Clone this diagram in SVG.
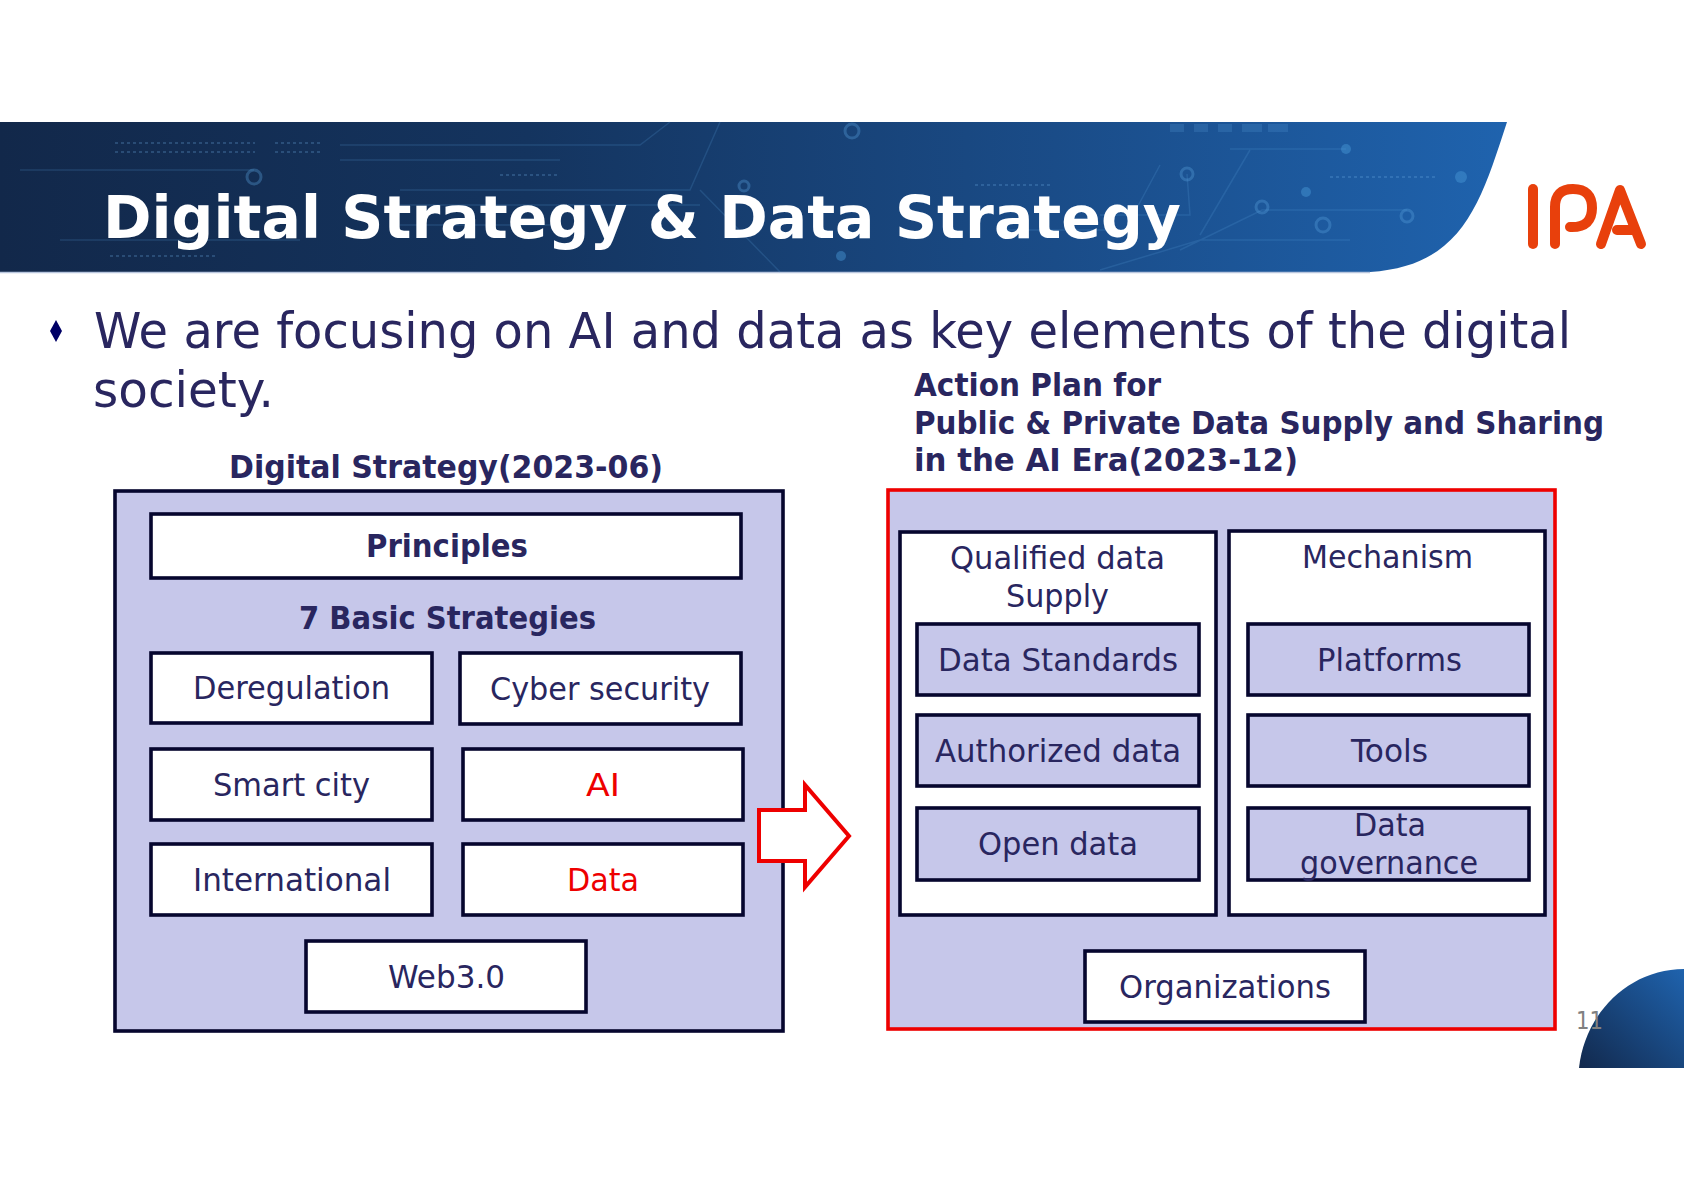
<svg xmlns="http://www.w3.org/2000/svg" width="1684" height="1191" viewBox="0 0 1684 1191">
<style>
text{font-family:"DejaVu Sans","Liberation Sans",sans-serif;fill:#29265f}
.t{font-size:32px;text-anchor:start}
.b{font-weight:bold}
.box{fill:#fff;stroke:#06062e;stroke-width:3.6}
.lav{fill:#c6c7ea;stroke:#06062e;stroke-width:3.6}
.dl{fill:none;stroke:#5aa0dc;stroke-opacity:.2;stroke-width:1.5}
.dc{fill:none;stroke:#5aa0dc;stroke-opacity:.35;stroke-width:3}
.df{fill:#4a9ad8;fill-opacity:.45}
.ch{fill:none;stroke:#6fb0e6;stroke-opacity:.25;stroke-width:2;stroke-dasharray:3 3}
</style>
<defs>
<linearGradient id="bn" x1="0" x2="1" y1="0" y2="0"><stop offset="0" stop-color="#12284a"/><stop offset=".35" stop-color="#14345f"/><stop offset=".7" stop-color="#1a4c88"/><stop offset="1" stop-color="#1f63ae"/></linearGradient>
<linearGradient id="cr" x1="0" x2="1" y1="1" y2="0"><stop offset="0" stop-color="#12294d"/><stop offset="1" stop-color="#1f63ae"/></linearGradient>
</defs>
<rect width="1684" height="1191" fill="#fff"/>
<g id="banner">
<path d="M0 122H1507C1480 205 1462 266 1370 272H0Z" fill="url(#bn)"/>
<path d="M0 272.500H1370" stroke="#b9c6de" stroke-width="1.500"/>
<g id="banner-circuit">
<path class="dl" d="M340 145H640L670 122M340 160H560M400 190H690L720 122M400 205H700M400 225H560M20 170H254M60 240H300M1160 165L1125 230H1000M1230 149H1346M1200 235L1250 150M1180 250L1262 210H1407M1100 270L1200 240H1350M700 190L780 272M1100 215H1190L1187 174"/>
<path class="ch" d="M115 143H255M115 152H255M275 143H320M275 152H320M110 256H215M975 185H1050M1330 177H1435M500 175H560"/>
<circle class="dc" cx="852" cy="131" r="7"/><circle class="dc" cx="254" cy="177" r="7"/><circle class="dc" cx="1187" cy="174" r="6"/><circle class="dc" cx="1262" cy="207" r="6"/><circle class="dc" cx="1323" cy="225" r="7"/><circle class="dc" cx="1407" cy="216" r="6"/><circle class="dc" cx="744" cy="186" r="5"/>
<circle class="df" cx="1461" cy="177" r="6"/><circle class="df" cx="1346" cy="149" r="5"/><circle class="df" cx="1306" cy="192" r="5"/><circle class="df" cx="841" cy="256" r="5"/>
<path d="M1170 124h14v8h-14zM1194 124h14v8h-14zM1218 124h14v8h-14zM1242 124h20v8h-20zM1268 124h20v8h-20z" fill="#5aa0dc" fill-opacity=".22"/>
</g>
<text x="103" y="238" class="b" font-size="59" textLength="1078" lengthAdjust="spacingAndGlyphs" style="fill:#fff">Digital Strategy &amp; Data Strategy</text>
</g>
<g id="logo" fill="none" stroke="#e8400c" stroke-width="10" stroke-linecap="round" stroke-linejoin="round">
<path d="M1533 189V244"/>
<path d="M1555 244V207Q1555 189 1573 189Q1592 189 1592 208Q1592 227 1572 227H1570"/>
<path d="M1601 244L1620 190L1641 244M1617 230H1635"/>
</g>
<g id="corner"><path d="M1579 1068C1585 1012 1630 969 1684 969V1068Z" fill="url(#cr)"/></g>
<text id="page" x="1576" y="1029" font-size="24" style="fill:#808080" textLength="27" lengthAdjust="spacingAndGlyphs">11</text>
<g id="intro">
<path d="M56 320L62 331L56 342L50 331Z" fill="#000066"/>
<text x="94" y="348" font-size="49" textLength="1477" lengthAdjust="spacingAndGlyphs">We are focusing on AI and data as key elements of the digital</text>
<text x="93" y="407" font-size="49" textLength="181" lengthAdjust="spacingAndGlyphs">society.</text>
</g>
<text id="left-title" x="229" y="478" class="b" font-size="32" textLength="434" lengthAdjust="spacingAndGlyphs">Digital Strategy(2023-06)</text>
<g id="right-title" class="b" font-size="32">
<text x="914" y="396" textLength="247" lengthAdjust="spacingAndGlyphs">Action Plan for</text>
<text x="914" y="434" textLength="690" lengthAdjust="spacingAndGlyphs">Public &amp; Private Data Supply and Sharing</text>
<text x="914" y="471" textLength="384" lengthAdjust="spacingAndGlyphs">in the AI Era(2023-12)</text>
</g>
<g id="digital-strategy">
<rect x="115" y="491" width="668" height="540" fill="#c6c7ea" stroke="#06062e" stroke-width="3.6"/>
<g id="principles"><rect class="box" x="151" y="514" width="590" height="64"/><text class="t b" x="366" y="557" textLength="162" lengthAdjust="spacingAndGlyphs">Principles</text></g>
<text id="basic" class="t b" x="299" y="629" textLength="297" lengthAdjust="spacingAndGlyphs">7 Basic Strategies</text>
<g id="deregulation"><rect class="box" x="151" y="653" width="281" height="70"/><text class="t" x="193" y="699" textLength="197" lengthAdjust="spacingAndGlyphs">Deregulation</text></g>
<g id="cyber"><rect class="box" x="460" y="653" width="281" height="71"/><text class="t" x="490" y="700" textLength="220" lengthAdjust="spacingAndGlyphs">Cyber security</text></g>
<g id="smart"><rect class="box" x="151" y="749" width="281" height="71"/><text class="t" x="213" y="796" textLength="157" lengthAdjust="spacingAndGlyphs">Smart city</text></g>
<g id="ai"><rect class="box" x="463" y="749" width="280" height="71"/><text class="t" x="586" y="796" textLength="34" lengthAdjust="spacingAndGlyphs" style="fill:#ee0000">AI</text></g>
<g id="international"><rect class="box" x="151" y="844" width="281" height="71"/><text class="t" x="193" y="891" textLength="198" lengthAdjust="spacingAndGlyphs">International</text></g>
<g id="data"><rect class="box" x="463" y="844" width="280" height="71"/><text class="t" x="567" y="891" textLength="72" lengthAdjust="spacingAndGlyphs" style="fill:#ee0000">Data</text></g>
<g id="web3"><rect class="box" x="306" y="941" width="280" height="71"/><text class="t" x="388" y="988" textLength="117" lengthAdjust="spacingAndGlyphs">Web3.0</text></g>
</g>
<g id="action-plan">
<rect x="888" y="490" width="667" height="539" fill="#c6c7ea" stroke="#ee0000" stroke-width="3.6"/>
<g id="qualified"><rect class="box" x="900" y="532" width="316" height="383"/><text class="t" x="950" y="569" textLength="215" lengthAdjust="spacingAndGlyphs">Qualified data</text><text class="t" x="1006" y="607" textLength="103" lengthAdjust="spacingAndGlyphs">Supply</text></g>
<g id="mechanism"><rect class="box" x="1229" y="531" width="316" height="384"/><text class="t" x="1302" y="568" textLength="171" lengthAdjust="spacingAndGlyphs">Mechanism</text></g>
<g id="standards"><rect class="lav" x="917" y="624" width="282" height="71"/><text class="t" x="938" y="671" textLength="240" lengthAdjust="spacingAndGlyphs">Data Standards</text></g>
<g id="authorized"><rect class="lav" x="917" y="715" width="282" height="71"/><text class="t" x="935" y="762" textLength="246" lengthAdjust="spacingAndGlyphs">Authorized data</text></g>
<g id="open"><rect class="lav" x="917" y="808" width="282" height="72"/><text class="t" x="978" y="855" textLength="160" lengthAdjust="spacingAndGlyphs">Open data</text></g>
<g id="platforms"><rect class="lav" x="1248" y="624" width="281" height="71"/><text class="t" x="1317" y="671" textLength="145" lengthAdjust="spacingAndGlyphs">Platforms</text></g>
<g id="tools"><rect class="lav" x="1248" y="715" width="281" height="71"/><text class="t" x="1351" y="762" textLength="77" lengthAdjust="spacingAndGlyphs">Tools</text></g>
<g id="governance"><rect class="lav" x="1248" y="808" width="281" height="72"/><text class="t" x="1354" y="836" textLength="72" lengthAdjust="spacingAndGlyphs">Data</text><text class="t" x="1300" y="874" textLength="178" lengthAdjust="spacingAndGlyphs">governance</text></g>
<g id="organizations"><rect class="box" x="1085" y="951" width="280" height="71"/><text class="t" x="1119" y="998" textLength="212" lengthAdjust="spacingAndGlyphs">Organizations</text></g>
</g>
<g id="connectors"><path d="M759 810H805V785L849 836L805 887V861H759Z" fill="#fff" stroke="#ee0000" stroke-width="4"/></g>
</svg>
